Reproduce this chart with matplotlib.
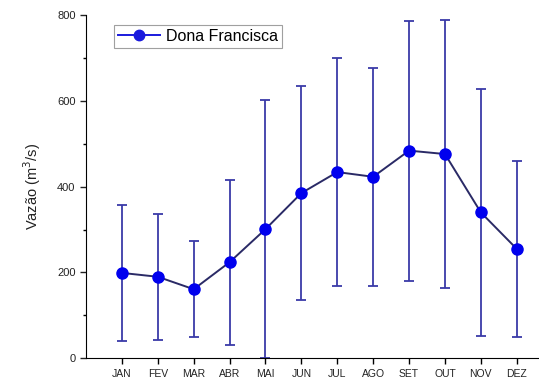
import numpy as np
import matplotlib.pyplot as plt

plt.rcParams['font.family'] = ['Liberation Sans', 'DejaVu Sans']

# Monthly mean flow and standard deviation (m3/s)
meses = ['JAN', 'FEV', 'MAR', 'ABR', 'MAI', 'JUN', 'JUL', 'AGO', 'SET', 'OUT', 'NOV', 'DEZ']
vazao_media = [199, 190, 161, 224, 301, 385, 434, 423, 484, 476, 340, 255]
desvio = [158, 147, 112, 192, 300, 250, 265, 254, 303, 313, 287, 205]

x = np.arange(1, len(meses) + 1)

fig = plt.figure(figsize=(5.39, 3.82), dpi=100)
ax = fig.add_axes([0.1596, 0.062, 0.8404, 0.8987])

ax.errorbar(x, vazao_media, yerr=desvio, fmt='none', ecolor='#3a3aa8',
            elinewidth=1.3, capsize=3.5, capthick=1.3, zorder=1)
ax.plot(x, vazao_media, '-', color='#2a2a66', linewidth=1.4, zorder=2)
ax.plot(x, vazao_media, 'o', color='#0000ee', markersize=8, zorder=3)
# proxy handle for the legend
ax.plot([], [], '-o', color='#1a1add', markersize=7.5, linewidth=1.4, label='Dona Francisca')

ax.set_xlim(0, 12.62)
ax.set_ylim(0, 800)
ax.set_xticks(x)
ax.set_xticklabels(meses, fontsize=7.5, color='#222222')
ax.set_yticks([0, 200, 400, 600, 800])
ax.set_yticks([100, 300, 500, 700], minor=True)
ax.tick_params(axis='y', labelsize=8, colors='#222222')
ax.tick_params(axis='both', which='major', direction='out', length=4, width=1)
ax.tick_params(axis='y', which='minor', direction='out', length=2.5, width=1)
ax.spines['top'].set_visible(False)
ax.spines['right'].set_visible(False)
ax.set_ylabel('Vazão (m$^3$/s)', fontsize=10.5, color='#222222', labelpad=10)

leg = ax.legend(loc='upper left', bbox_to_anchor=(0.045, 0.995), fontsize=11.5,
                frameon=True, fancybox=False, edgecolor='#888888',
                handlelength=2.6, borderpad=0.25, handletextpad=0.4)
leg.get_frame().set_linewidth(0.8)

fig.savefig('out.png', dpi=100)
